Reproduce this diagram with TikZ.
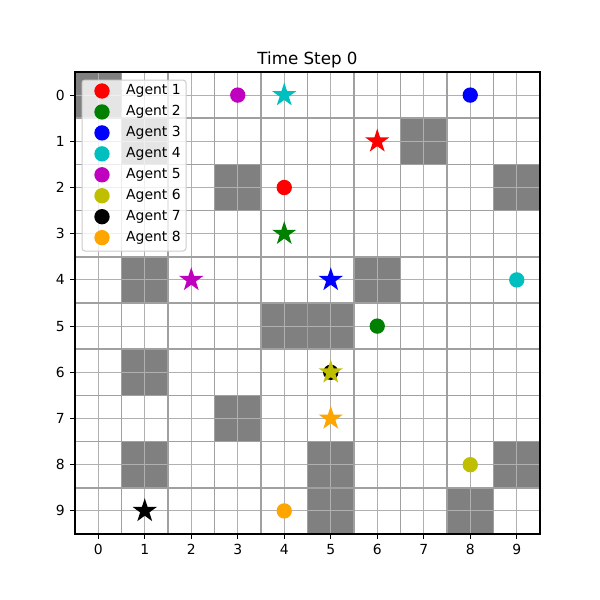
\documentclass[tikz,border=0pt]{standalone}
\usepackage{fontspec}
\setmainfont{DejaVu Sans}
\usetikzlibrary{shapes.geometric}
\definecolor{mred}{HTML}{FF0000}
\definecolor{mgreen}{HTML}{008000}
\definecolor{mblue}{HTML}{0000FF}
\definecolor{mcyan}{HTML}{00BFBF}
\definecolor{mmag}{HTML}{BF00BF}
\definecolor{myel}{HTML}{BFBF00}
\definecolor{mblack}{HTML}{000000}
\definecolor{morange}{HTML}{FFA500}
\definecolor{obst}{HTML}{808080}
\definecolor{gridc}{HTML}{B0B0B0}
\definecolor{cellc}{HTML}{A0A0A0}
\definecolor{legedge}{HTML}{CCCCCC}
\begin{document}
\begin{tikzpicture}[x=1pt,y=-1pt,
  agentdot/.style={circle,inner sep=0pt,minimum size=13.9pt,line width=1.4pt,fill=#1,draw=#1},
  goalstar/.style={star,star points=5,star point ratio=2.618,inner sep=0pt,minimum size=20.8pt,line width=1.4pt,fill=#1,draw=#1},
  ticklab/.style={inner sep=0pt,font=\fontsize{13.9}{16}\selectfont},
  legtext/.style={inner sep=0pt,anchor=west,font=\fontsize{13.9}{16}\selectfont},
  obstcell/.style={fill=obst,draw=none}]
\useasboundingbox (0,0) rectangle (600,600);
\fill[white] (0,0) rectangle (600,600);
% obstacles (col,row)
\foreach \c/\r in {0/0,1/1,7/1,3/2,9/2,1/4,6/4,4/5,5/5,1/6,3/7,1/8,5/8,9/8,5/9,8/9}{
  \pgfmathsetmacro\xa{75+46.5*\c}
  \pgfmathsetmacro\ya{72+46.2*\r}
  \fill[obstcell] (\xa,\ya) rectangle ++(46.5,46.2);
}
% grid lines through cell centres
\foreach \k in {0,...,9}{
  \pgfmathsetmacro\xc{75+46.5*(\k+0.5)}
  \pgfmathsetmacro\yc{72+46.2*(\k+0.5)}
  \draw[gridc,line width=1.1pt] (\xc,72) -- (\xc,534);
  \draw[gridc,line width=1.1pt] (75,\yc) -- (540,\yc);
}
% cell boundaries
\foreach \k in {1,...,9}{
  \pgfmathsetmacro\xb{75+46.5*\k}
  \pgfmathsetmacro\yb{72+46.2*\k}
  \draw[cellc,line width=1.5pt] (\xb,72) -- (\xb,534);
  \draw[cellc,line width=1.5pt] (75,\yb) -- (540,\yb);
}
% ticks and labels
\foreach \k in {0,...,9}{
  \pgfmathsetmacro\xc{75+46.5*(\k+0.5)}
  \pgfmathsetmacro\yc{72+46.2*(\k+0.5)}
  \draw[line width=1.1pt] (\xc,534) -- (\xc,539);
  \draw[line width=1.1pt] (75,\yc) -- (70,\yc);
  \node[ticklab,anchor=north] (xt\k) at (\xc,544) {\k};
  \node[ticklab,anchor=east] (yt\k) at (65,\yc) {\k};
}
% agents: current positions (circles) and goals (stars)
\newcommand{\cx}[1]{\fpeval{75+46.5*(#1+0.5)}}
\newcommand{\ry}[1]{\fpeval{72+46.2*(#1+0.5)}}
\node[agentdot=mred]    (a1) at (\cx{4},\ry{2}) {};
\node[goalstar=mred]    (g1) at (\cx{6},\ry{1}) {};
\node[agentdot=mgreen]  (a2) at (\cx{6},\ry{5}) {};
\node[goalstar=mgreen]  (g2) at (\cx{4},\ry{3}) {};
\node[agentdot=mblue]   (a3) at (\cx{8},\ry{0}) {};
\node[goalstar=mblue]   (g3) at (\cx{5},\ry{4}) {};
\node[agentdot=mcyan]   (a4) at (\cx{9},\ry{4}) {};
\node[goalstar=mcyan]   (g4) at (\cx{4},\ry{0}) {};
\node[agentdot=mmag]    (a5) at (\cx{3},\ry{0}) {};
\node[goalstar=mmag]    (g5) at (\cx{2},\ry{4}) {};
\node[agentdot=myel]    (a6) at (\cx{8},\ry{8}) {};
\node[agentdot=mblack]  (a7) at (\cx{5},\ry{6}) {};
\node[goalstar=myel]    (g6) at (\cx{5},\ry{6}) {};
\node[goalstar=mblack]  (g7) at (\cx{1},\ry{9}) {};
\node[agentdot=morange] (a8) at (\cx{4},\ry{9}) {};
\node[goalstar=morange] (g8) at (\cx{5},\ry{7}) {};
% legend
\draw[legedge,fill=white,fill opacity=0.8,rounded corners=3pt,line width=1pt] (82,80) rectangle (186,251);
\foreach \i/\col in {1/mred,2/mgreen,3/mblue,4/mcyan,5/mmag,6/myel,7/mblack,8/morange}{
  \pgfmathsetmacro\ly{91+20.95*(\i-1)}
  \node[agentdot=\col] (lm\i) at (102,\ly) {};
  \node[legtext] (lt\i) at (126,\ly) {Agent \i};
}
% frame
\draw[line width=1.1pt] (75,72) rectangle (540,534);
% title
\node[inner sep=0pt,font=\fontsize{16.7}{20}\selectfont] (title) at (307.5,60) {Time Step 0};
\end{tikzpicture}
\end{document}
